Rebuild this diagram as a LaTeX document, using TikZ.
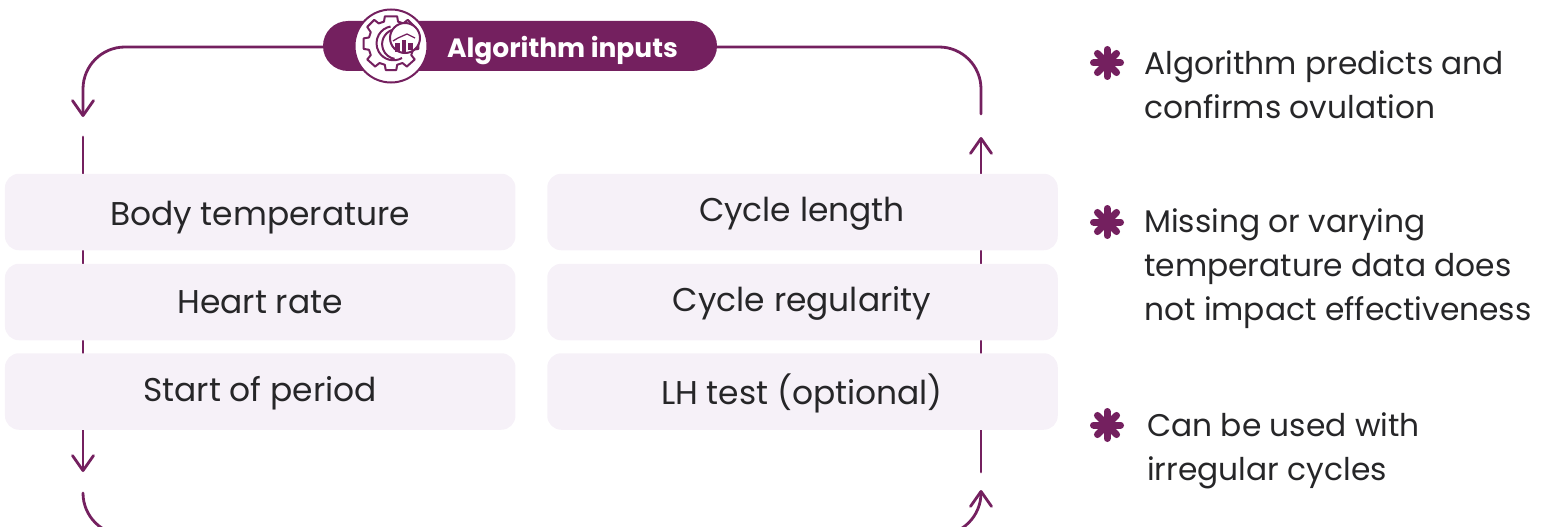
\documentclass[tikz,border=0pt]{standalone}
\usepackage{fontspec}
\setmainfont{Poppins}
\usetikzlibrary{arrows.meta}
\definecolor{plum}{HTML}{74205F}
\definecolor{boxfill}{HTML}{F6F1F8}
\definecolor{ink}{HTML}{262628}
\tikzset{
  flow/.style={draw=plum,line width=2.8pt,line cap=round},
  tip/.style={-{Straight Barb[length=15pt,width=21pt,line width=2.8pt,round]}},
  inbox/.style={fill=boxfill,rounded corners=14pt,minimum width=510.5pt,minimum height=76.5pt,inner sep=0pt},
  lab/.style={text=ink,font=\fontsize{32.9}{33}\selectfont,anchor=base,inner sep=0pt},
  para/.style={text=ink,font=\fontsize{31.3}{44}\selectfont,align=left,anchor=base west,inner sep=0pt},
  petal/.style={draw=plum,line width=7pt,line cap=round},
  iconline/.style={draw=plum,line width=2pt,line join=round}
}
\begin{document}
\begin{tikzpicture}[x=1pt,y=-1pt]
\useasboundingbox (0,0) rectangle (1548,527);
\clip (0,0) rectangle (1548,527);
% anchors of the connector
\coordinate (ltip) at (83,117);
\coordinate (lstart) at (83,137);
\coordinate (lend) at (83,472);
\coordinate (bstart) at (83,493);
\coordinate (brtip) at (981,490);
\coordinate (rstart) at (981,472);
\coordinate (rend) at (981,137);
\coordinate (rtop) at (981,114);
\coordinate (bl) at (83,535);
\coordinate (br) at (981,535);
% pill
\node[fill=plum,rounded corners=25pt,minimum width=394pt,minimum height=50pt,inner sep=0pt] (pill) at (520,46) {};
% connectors
\draw[flow,tip,rounded corners=42pt] ([yshift=-1pt]pill.west) -| (ltip);
\draw[flow,rounded corners=42pt] ([yshift=-1pt]pill.east) -| (rtop);
\draw[flow,tip] (lstart) -- (lend);
\draw[flow,tip] (rstart) -- (rend);
\draw[flow,tip,rounded corners=42pt] (bstart) -- (bl) -- (br) -- (brtip);
% boxes
\node[inbox] (b1) at (260.2,212) {};
\node[inbox] (b2) at (260.2,302) {};
\node[inbox] (b3) at (260.2,391.5) {};
\node[inbox] (b4) at (802.5,212) {};
\node[inbox] (b5) at (802.5,302) {};
\node[inbox] (b6) at (802.5,391.5) {};
\node[lab] (t1) at (260,225) {Body temperature};
\node[lab] (t2) at (260,313) {Heart rate};
\node[lab] (t3) at (260,401) {Start of period};
\node[lab] (t4) at (802,221) {Cycle length};
\node[lab] (t5) at (802,311) {Cycle regularity};
\node[lab] (t6) at (802,404) {LH test (optional)};
\node[text=white,font=\fontsize{26.5}{27}\selectfont\bfseries,anchor=base,inner sep=0pt] (ptext) at (562.5,58) {Algorithm inputs};
% icon
\node[circle,fill=white,draw=plum,line width=2pt,minimum size=73pt,inner sep=0pt] (icon) at (391,46) {};
\draw[iconline,shift={(391,41)},scale=0.88] (-7,-28) -- (7,-28) -- (8,-22) -- (14,-20) -- (19,-24) -- (27,-16) -- (23,-10) -- (25,-4) -- (31,-3) -- (31,9) -- (25,10) -- (23,16) -- (27,21) -- (18,29) -- (13,25) -- (7,27) -- (6,33) -- (-6,33) -- (-7,27) -- (-13,25) -- (-18,29) -- (-27,21) -- (-23,16) -- (-25,10) -- (-31,9) -- (-31,-3) -- (-25,-4) -- (-23,-10) -- (-27,-16) -- (-19,-24) -- (-14,-20) -- (-8,-22) -- cycle;
\draw[iconline] (402,58) arc[start angle=60,end angle=260,radius=17];
\draw[iconline] (392,30) arc[start angle=250,end angle=100,radius=15];
\node[circle,fill=white,draw=plum,line width=2pt,minimum size=30pt,inner sep=0pt] (chart) at (405,38) {};
\fill[plum] (395,43) rectangle (400,52);
\fill[plum] (402,40) rectangle (406,53);
\fill[plum] (408,43) rectangle (413,50);
\draw[plum,line width=1.3pt] (393,41) -- (398,38) -- (407,34) -- (415,38);
% bullets
\foreach \n/\y in {s1/63,s2/222,s3/425}{
  \coordinate (\n) at (1107,\y);
  \foreach \a in {0,45,...,135}
    \draw[petal] (\n) ++(\a:13.5) -- ++(\a+180:27);
}
\node[para] (p1) at (1144,118) {Algorithm predicts and\\confirms ovulation};
\node[para] (p2) at (1144,320.5) {Missing or varying\\temperature data does\\not impact effectiveness};
\node[para] (p3) at (1147,480) {Can be used with\\irregular cycles};
\end{tikzpicture}
\end{document}
